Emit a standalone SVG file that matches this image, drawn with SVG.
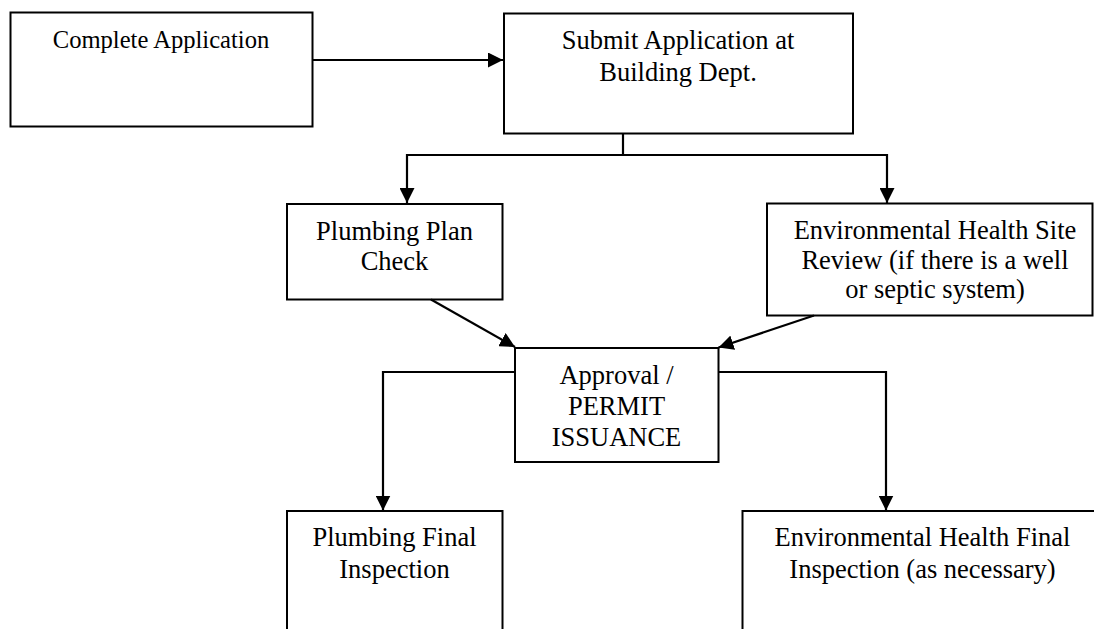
<svg xmlns="http://www.w3.org/2000/svg" width="1094" height="629" viewBox="0 0 1094 629">
<style>
  .box { fill: #ffffff; stroke: #000000; stroke-width: 2; }
  .lbl { font-family: "Liberation Serif", "Times New Roman", serif; font-size: 26.5px; fill: #000000; text-anchor: middle; }
  .conn { fill: none; stroke: #000000; stroke-width: 2.2; }
</style>
<defs>
  <marker id="arrow" markerUnits="userSpaceOnUse" markerWidth="16" markerHeight="15" refX="15" refY="7.5" orient="auto">
    <path d="M0,0 L15,7.5 L0,15 Z" fill="#000000"/>
  </marker>
</defs>
<rect width="1094" height="629" fill="#ffffff"/>
<g id="node-complete">
  <rect class="box" x="10.5" y="12.5" width="302" height="114"/>
  <text class="lbl" x="161" y="48" style="font-size:24.6px">Complete Application</text>
</g>
<g id="node-submit">
  <rect class="box" x="504" y="13.5" width="349" height="120"/>
  <text class="lbl" x="678" y="48.5">Submit Application at</text>
  <text class="lbl" x="678" y="80.5">Building Dept.</text>
</g>
<g id="node-plumbing-plan">
  <rect class="box" x="287" y="204" width="215.5" height="95.5"/>
  <text class="lbl" x="394.5" y="239.5">Plumbing Plan</text>
  <text class="lbl" x="394.5" y="270">Check</text>
</g>
<g id="node-env-site">
  <rect class="box" x="767" y="203.5" width="325.5" height="112"/>
  <text class="lbl" x="935" y="238.5">Environmental Health Site</text>
  <text class="lbl" x="935" y="268.5">Review (if there is a well</text>
  <text class="lbl" x="935" y="297.5">or septic system)</text>
</g>
<g id="node-approval">
  <rect class="box" x="515" y="348" width="203.5" height="114"/>
  <text class="lbl" x="616.5" y="383.5">Approval /</text>
  <text class="lbl" x="616.5" y="414.5">PERMIT</text>
  <text class="lbl" x="616.5" y="446">ISSUANCE</text>
</g>
<g id="node-plumbing-final">
  <rect class="box" x="287" y="511" width="215.5" height="140"/>
  <text class="lbl" x="394.5" y="545.5">Plumbing Final</text>
  <text class="lbl" x="394.5" y="577.5">Inspection</text>
</g>
<g id="node-env-final">
  <rect class="box" x="742.5" y="511" width="380" height="140"/>
  <text class="lbl" x="922.5" y="545.5">Environmental Health Final</text>
  <text class="lbl" x="922.5" y="577.5">Inspection (as necessary)</text>
</g>
<g id="connectors">
  <path class="conn" d="M312.5,60 L503,60" marker-end="url(#arrow)"/>
  <path class="conn" d="M623,133.5 L623,155"/>
  <path class="conn" d="M623,155 L407,155 L407,203" marker-end="url(#arrow)"/>
  <path class="conn" d="M623,155 L887,155 L887,203" marker-end="url(#arrow)"/>
  <path class="conn" d="M431,299.5 L515,347" marker-end="url(#arrow)"/>
  <path class="conn" d="M814,315.5 L718.5,347.5" marker-end="url(#arrow)"/>
  <path class="conn" d="M515,372 L383,372 L383,510.5" marker-end="url(#arrow)"/>
  <path class="conn" d="M718.5,372 L886,372 L886,510.5" marker-end="url(#arrow)"/>
</g>
</svg>
